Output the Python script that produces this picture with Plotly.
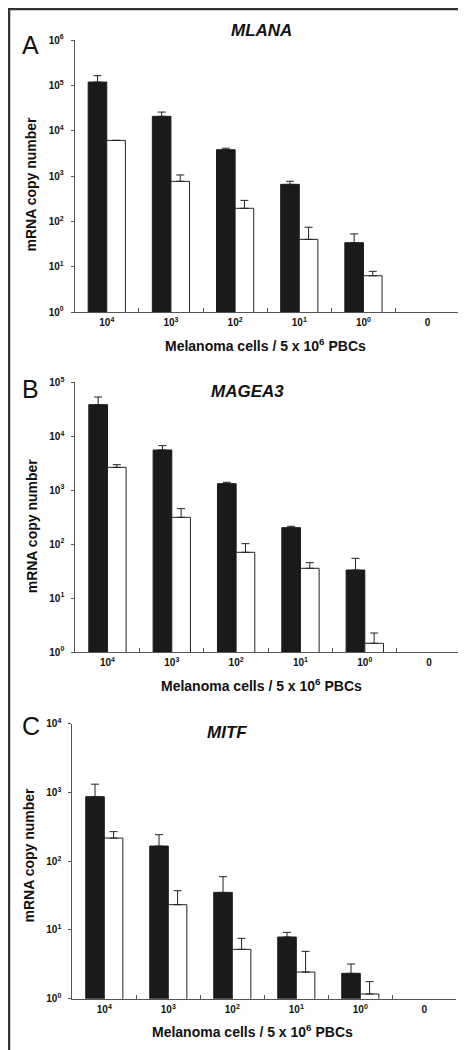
import plotly.graph_objects as go

categories = ["10<sup>4</sup>", "10<sup>3</sup>", "10<sup>2</sup>", "10<sup>1</sup>", "10<sup>0</sup>", "0"]

# MLANA
mlana_black = [118000, 20700, 3800, 655, 33.8, None]
mlana_black_sd = [45000, 5000, 300, 110, 19, None]
mlana_white = [6100, 763, 194, 40, 6.3, None]
mlana_white_sd = [0, 290, 96, 34, 1.6, None]

# MAGEA3
magea3_black = [38500, 5560, 1320, 202, 33.1, None]
magea3_black_sd = [14900, 1140, 80, 12, 21.4, None]
magea3_white = [2650, 314, 70.5, 35.6, 1.45, None]
magea3_white_sd = [320, 141, 31.5, 9.7, 0.8, None]

# MITF
mitf_black = [867, 166, 35.2, 7.89, 2.34, None]
mitf_black_sd = [453, 77, 24.3, 1.33, 0.85, None]
mitf_white = [217, 23.3, 5.22, 2.44, 1.17, None]
mitf_white_sd = [52, 13.9, 2.33, 2.44, 0.6, None]

panels = [
    dict(title="MLANA", letter="A", black=mlana_black, bsd=mlana_black_sd,
         white=mlana_white, wsd=mlana_white_sd, decades=6),
    dict(title="MAGEA3", letter="B", black=magea3_black, bsd=magea3_black_sd,
         white=magea3_white, wsd=magea3_white_sd, decades=5),
    dict(title="MITF", letter="C", black=mitf_black, bsd=mitf_black_sd,
         white=mitf_white, wsd=mitf_white_sd, decades=4),
]

W, H = 466, 1050
# plot-area pixel boxes: (left, right, top, bottom)
boxes = [(66.7, 451.7, 32.0, 304.0), (67.3, 453.3, 374.3, 644.0), (64.3, 448.3, 715.7, 990.7)]
letter_pos = [(22, 37), (22, 381), (22.5, 717.5)]
title_pos = [(253, 23), (239, 383.3), (219, 724.3)]
ytitle_pos = [(22.5, 176), (23.8, 517.5), (20.5, 847)]
xtitle_pos = [(257.3, 337.3), (253.5, 676.7), (245, 1023.3)]

FONT = "Liberation Sans"
fig = go.Figure()
layout = dict(width=W, height=H, margin=dict(l=0, r=0, t=0, b=0, pad=0, autoexpand=False),
              paper_bgcolor="white", plot_bgcolor="white", showlegend=False,
              barmode="group", bargap=0.42, bargroupgap=0, annotations=[], shapes=[])

for i, p in enumerate(panels):
    n = "" if i == 0 else str(i + 1)
    xa, ya = "x" + n, "y" + n
    zeros = [0] * len(categories)
    fig.add_trace(go.Bar(x=categories, y=p["black"], xaxis=xa, yaxis=ya,
                         marker=dict(color="#1a1a1a", line=dict(color="#1a1a1a", width=1)),
                         error_y=dict(type="data", symmetric=False, array=p["bsd"], arrayminus=zeros,
                                      color="#222", thickness=1, width=4)))
    fig.add_trace(go.Bar(x=categories, y=p["white"], xaxis=xa, yaxis=ya,
                         marker=dict(color="white", line=dict(color="#222", width=1)),
                         error_y=dict(type="data", symmetric=False, array=p["wsd"], arrayminus=zeros,
                                      color="#222", thickness=1, width=4)))
    l, r, t, b = boxes[i]
    d = p["decades"]
    layout["xaxis" + n] = dict(domain=[l / W, r / W], anchor=ya, type="category", automargin=False,
                               range=[-0.5, 5.5], tickson="boundaries", ticks="inside", ticklen=4,
                               tickcolor="#555", showline=True, linecolor="#555", linewidth=1,
                               showgrid=False, zeroline=False, ticklabelstandoff=1,
                               tickfont=dict(family=FONT, size=10, color="#111", weight="bold"))
    layout["yaxis" + n] = dict(domain=[1 - b / H, 1 - t / H], anchor=xa, type="log", automargin=False,
                               range=[0, d], tickvals=[10 ** k for k in range(d + 1)],
                               ticktext=["10<sup>%d</sup>" % k for k in range(d + 1)],
                               ticks="outside", ticklen=3, tickcolor="#555",
                               showline=True, linecolor="#555", linewidth=1,
                               showgrid=False, zeroline=False, ticklabelstandoff=5,
                               tickfont=dict(family=FONT, size=10, color="#111", weight="bold"))
    ann = layout["annotations"]
    lx, ly = letter_pos[i]
    ann.append(dict(text=p["letter"], x=lx / W, y=1 - ly / H, xref="paper", yref="paper",
                    showarrow=False, xanchor="center", yanchor="middle",
                    font=dict(family=FONT, size=25, color="#111")))
    tx, ty = title_pos[i]
    ann.append(dict(text=p["title"], x=tx / W, y=1 - ty / H, xref="paper", yref="paper",
                    showarrow=False, xanchor="center", yanchor="middle",
                    font=dict(family=FONT, size=17, color="#111", weight="bold", style="italic")))
    yx, yy = ytitle_pos[i]
    ann.append(dict(text="mRNA copy number", x=yx / W, y=1 - yy / H, xref="paper", yref="paper",
                    showarrow=False, xanchor="center", yanchor="middle", textangle=-90,
                    font=dict(family=FONT, size=14, color="#111", weight="bold")))
    xx, xy = xtitle_pos[i]
    ann.append(dict(text="Melanoma cells / 5 x 10<sup>6</sup> PBCs", x=xx / W, y=1 - xy / H,
                    xref="paper", yref="paper", showarrow=False, xanchor="center", yanchor="middle",
                    font=dict(family=FONT, size=14, color="#111", weight="bold")))

layout["shapes"].append(dict(type="rect", xref="paper", yref="paper",
                             x0=1 / W, x1=463 / W, y0=1 - 1047 / H, y1=1 - 1 / H,
                             line=dict(color="#333", width=2.5)))
fig.update_layout(**layout)
fig.write_html("out.html")
